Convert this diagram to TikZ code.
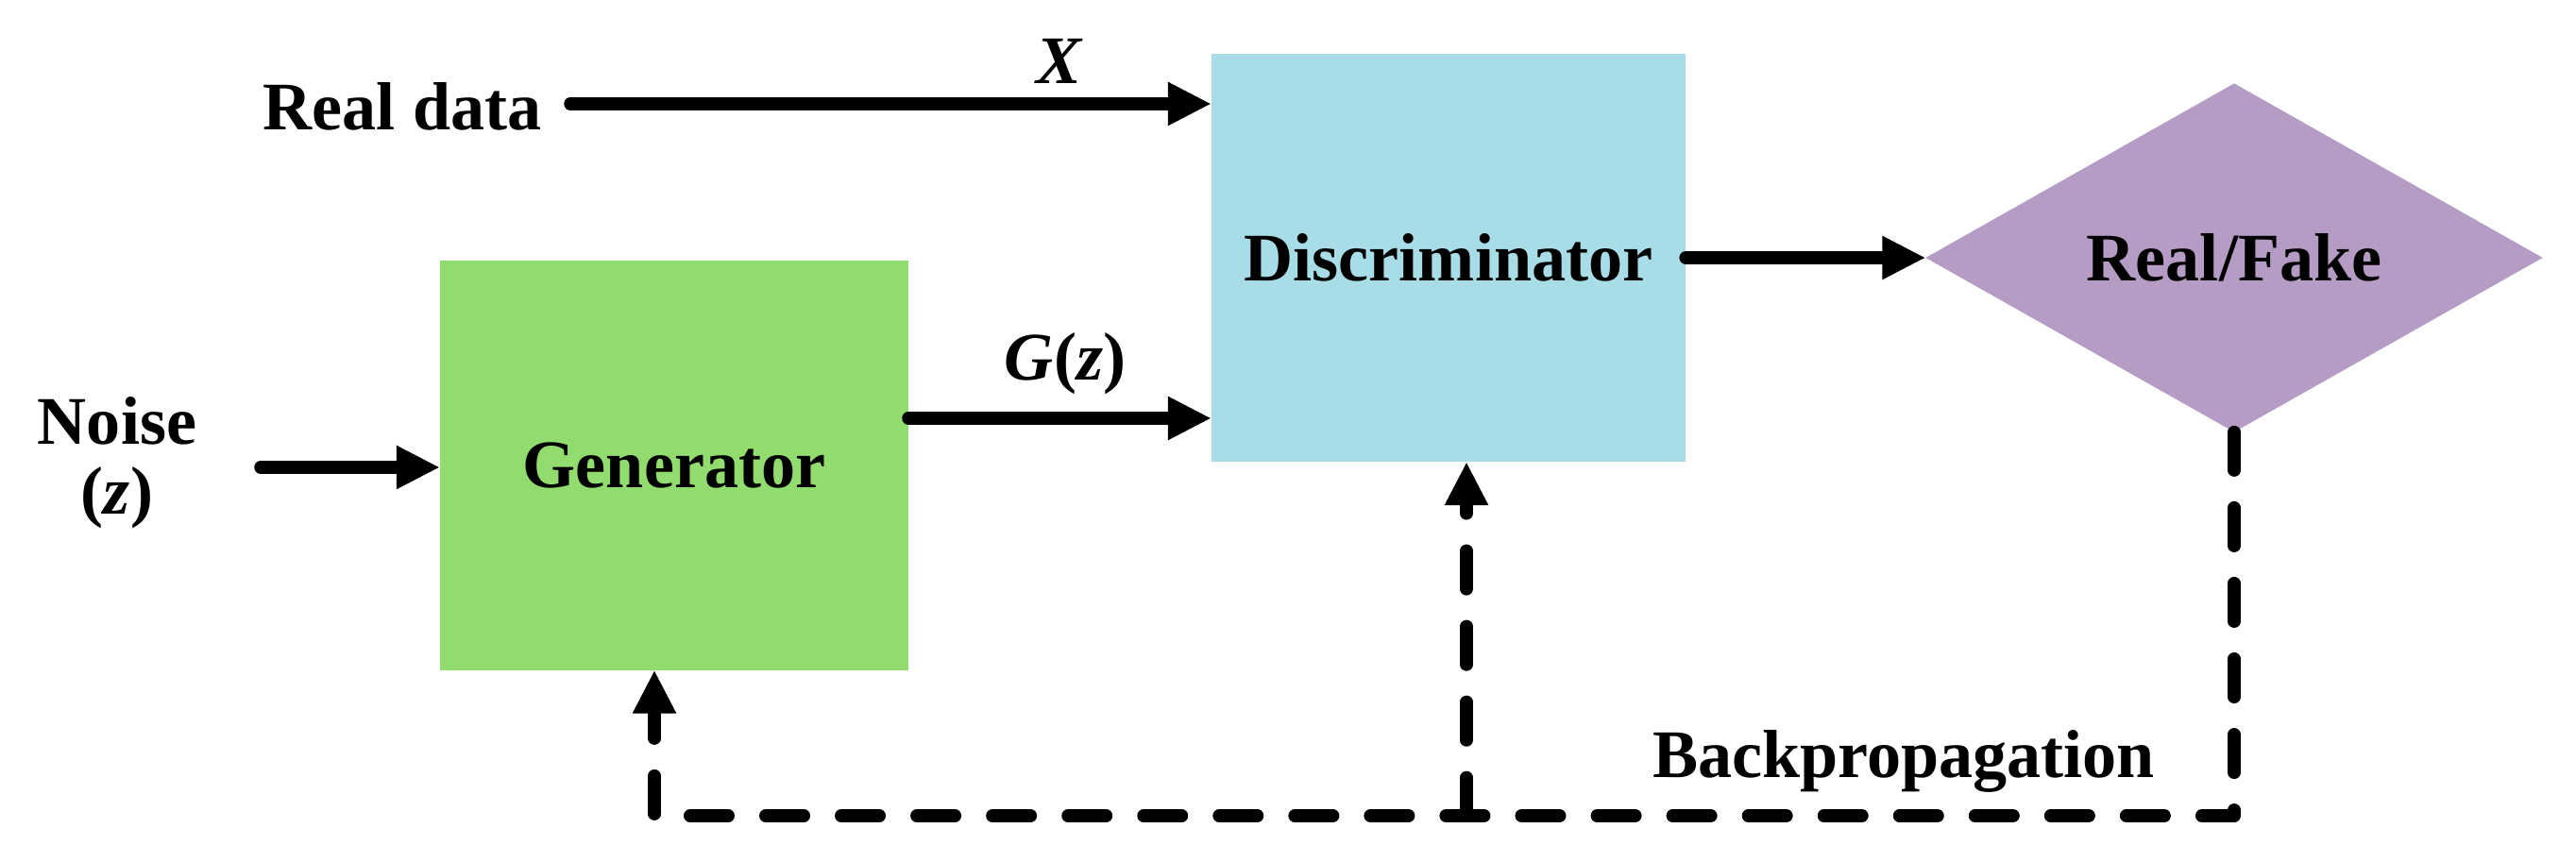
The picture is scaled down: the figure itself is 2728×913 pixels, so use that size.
\documentclass[tikz,border=0pt]{standalone}
\usepackage{fontspec}
\setmainfont{Liberation Serif}
\usetikzlibrary{arrows.meta,shapes.geometric}
\definecolor{gengreen}{RGB}{146,219,110}
\definecolor{discblue}{RGB}{168,221,231}
\definecolor{rfpurple}{RGB}{180,156,196}
\newcommand{\dfont}{\fontsize{20.5}{21}\selectfont\bfseries}
\tikzset{
  box/.style={draw=none, inner sep=0pt, outer sep=0pt, font=\dfont},
  lab/.style={inner sep=0pt, outer sep=0pt, font=\dfont},
  flow/.style={line width=0.135cm, line cap=round, line join=round,
    -{Triangle[length=0.46cm,width=0.43cm]}},
  back/.style={flow, dash pattern=on 0.405cm off 0.395cm}
}
\begin{document}
\begin{tikzpicture}[x=0.01cm,y=-0.01cm]
\useasboundingbox (0,0) rectangle (2728,913);
% blocks
\node[box, fill=gengreen, minimum width=4.96cm, minimum height=4.33cm] (gen) at (714,493) {Generator};
\node[box, fill=discblue, minimum width=5.02cm, minimum height=4.32cm] (disc) at (1534,273) {Discriminator};
\node[diamond, fill=rfpurple, inner sep=0pt, outer sep=0pt, minimum width=6.53cm, minimum height=3.69cm, aspect=1.77, font=\dfont] (rf) at (2366,273) {Real/Fake};
% labels
\node[lab] (real) at (426,113) {Real data};
\node[lab, align=center] (noise) at (124,490) {Noise\\(\textit{z})};
\node[lab] (xlab) at (1122,65) {\textit{X}};
\node[lab] (glab) at (1128,385) {\textit{G}(\textit{z})};
\node[lab] (bp) at (2016,806) {Backpropagation};
% coordinates
\coordinate (rx) at (604,110);
\coordinate (nz) at (276,495);
\coordinate (gz) at (962,443);
\coordinate (bl) at (693,864);
\coordinate (bm) at (1553,864);
% forward connectors
\draw[flow] (rx) -- (rx -| disc.west);
\draw[flow] (nz) -- (nz -| gen.west);
\draw[flow] (gz) -- (gz -| disc.west);
\draw[flow] (disc.east) -- (rf.west);
% backpropagation
\draw[back] (rf.south) |- (bl) -- (bl |- gen.south);
\draw[back] (bm) -- (bm |- disc.south);
\end{tikzpicture}
\end{document}
